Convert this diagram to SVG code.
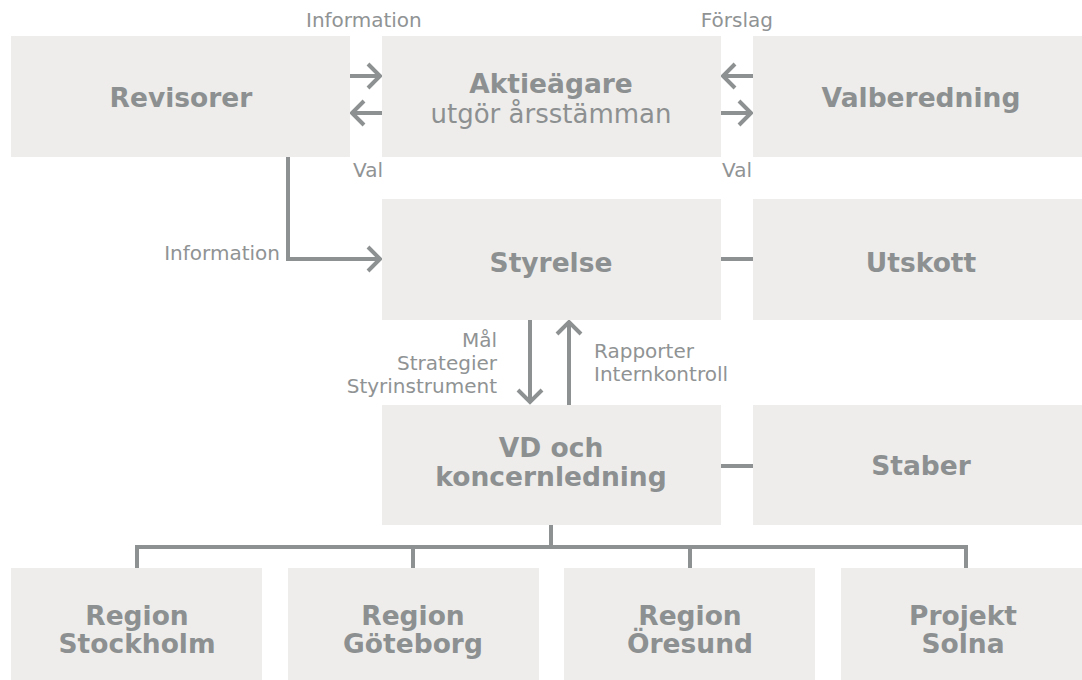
<svg xmlns="http://www.w3.org/2000/svg" width="1082" height="680" viewBox="0 0 1082 680">
<style>
.box{fill:#eeedeb}
.b{font-family:"DejaVu Sans",sans-serif;font-weight:bold;font-size:26.5px;fill:#8d9091;text-anchor:middle}
.r{font-family:"DejaVu Sans",sans-serif;font-size:26px;fill:#8d9091;text-anchor:middle}
.l{font-family:"DejaVu Sans",sans-serif;font-size:20px;fill:#909394}
.c{fill:none;stroke:#8e9192;stroke-width:4}
</style>
<defs>
<marker id="ah" markerUnits="userSpaceOnUse" markerWidth="20" markerHeight="30" viewBox="0 0 20 30" refX="15" refY="15" orient="auto">
<path d="M3,3 L15,15 L3,27" fill="none" stroke="#8e9192" stroke-width="4"/>
</marker>
</defs>
<rect width="1082" height="680" fill="#ffffff"/>
<g id="connectors">
<path class="c" d="M350,76 H380" marker-end="url(#ah)"/>
<path class="c" d="M382,113 H352" marker-end="url(#ah)"/>
<path class="c" d="M753,76 H723" marker-end="url(#ah)"/>
<path class="c" d="M721,113 H751" marker-end="url(#ah)"/>
<path class="c" d="M288,157 V259 H380" marker-end="url(#ah)"/>
<path class="c" d="M530,320 V402" marker-end="url(#ah)"/>
<path class="c" d="M569,405 V322" marker-end="url(#ah)"/>
<path class="c" d="M721,259 H753"/>
<path class="c" d="M721,466 H753"/>
<path class="c" d="M551,525 V547"/>
<path class="c" d="M137,568 V547 H966 V568"/>
<path class="c" d="M413,547 V568"/>
<path class="c" d="M690,547 V568"/>
<text class="l" x="306" y="27">Information</text>
<text class="l" x="773" y="27" text-anchor="end">Förslag</text>
<text class="l" x="353" y="177">Val</text>
<text class="l" x="722" y="177">Val</text>
<text class="l" x="280" y="260" text-anchor="end">Information</text>
<text class="l" x="497" y="347" text-anchor="end">Mål</text>
<text class="l" x="497" y="370" text-anchor="end">Strategier</text>
<text class="l" x="497" y="393" text-anchor="end">Styrinstrument</text>
<text class="l" x="594" y="358">Rapporter</text>
<text class="l" x="594" y="381">Internkontroll</text>
</g>
<g id="revisorer"><rect class="box" x="11" y="36" width="339" height="121"/><text class="b" x="181" y="107">Revisorer</text></g>
<g id="aktieagare"><rect class="box" x="382" y="36" width="339" height="121"/><text class="b" x="551" y="93">Aktieägare</text><text class="r" x="551" y="123">utgör årsstämman</text></g>
<g id="valberedning"><rect class="box" x="753" y="36" width="329" height="121"/><text class="b" x="921" y="107">Valberedning</text></g>
<g id="styrelse"><rect class="box" x="382" y="199" width="339" height="121"/><text class="b" x="551" y="272">Styrelse</text></g>
<g id="utskott"><rect class="box" x="753" y="199" width="329" height="121"/><text class="b" x="921" y="272">Utskott</text></g>
<g id="vd"><rect class="box" x="382" y="405" width="339" height="120"/><text class="b" x="551" y="457">VD och</text><text class="b" x="551" y="486">koncernledning</text></g>
<g id="staber"><rect class="box" x="753" y="405" width="329" height="120"/><text class="b" x="921" y="475">Staber</text></g>
<g id="stockholm"><rect class="box" x="11" y="568" width="251" height="112"/><text class="b" x="137" y="625">Region</text><text class="b" x="137" y="653">Stockholm</text></g>
<g id="goteborg"><rect class="box" x="288" y="568" width="251" height="112"/><text class="b" x="413" y="625">Region</text><text class="b" x="413" y="653">Göteborg</text></g>
<g id="oresund"><rect class="box" x="564" y="568" width="251" height="112"/><text class="b" x="690" y="625">Region</text><text class="b" x="690" y="653">Öresund</text></g>
<g id="solna"><rect class="box" x="841" y="568" width="241" height="112"/><text class="b" x="963" y="625">Projekt</text><text class="b" x="963" y="653">Solna</text></g>
</svg>
